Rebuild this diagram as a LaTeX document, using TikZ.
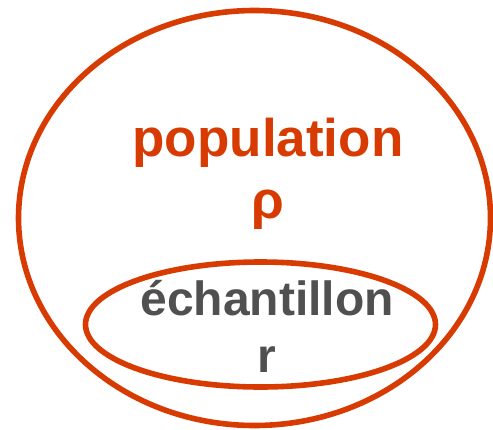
\documentclass[tikz,border=0pt]{standalone}
\usepackage{fontspec}
\setmainfont{Liberation Sans}
\definecolor{popred}{HTML}{D83B01}
\definecolor{txtgray}{HTML}{505050}

\begin{document}
\begin{tikzpicture}[x=0.5pt, y=-0.5pt,
    ring/.style={draw=popred, line width=2.8pt},
    bigtxt/.style={anchor=base, inner sep=0pt, font=\fontsize{26.5}{32}\selectfont\bfseries, text=popred},
    smalltxt/.style={anchor=base, inner sep=0pt, font=\fontsize{24}{29}\selectfont\bfseries, text=txtgray}]
  \useasboundingbox (0,0) rectangle (493,429);
  % the two sets
  \draw[ring] (254.5,218) ellipse [x radius=236, y radius=207.5];
  \draw[ring] (260.5,324.5) ellipse [x radius=175, y radius=62.5];
  % labels
  \node[bigtxt] (pop) at (268,156) {population};
  \node[bigtxt] (rho) at (268,218) {ρ};
  \node[smalltxt] (ech) at (267,315) {échantillon};
  \node[smalltxt] (r) at (267,372) {r};
\end{tikzpicture}
\end{document}
